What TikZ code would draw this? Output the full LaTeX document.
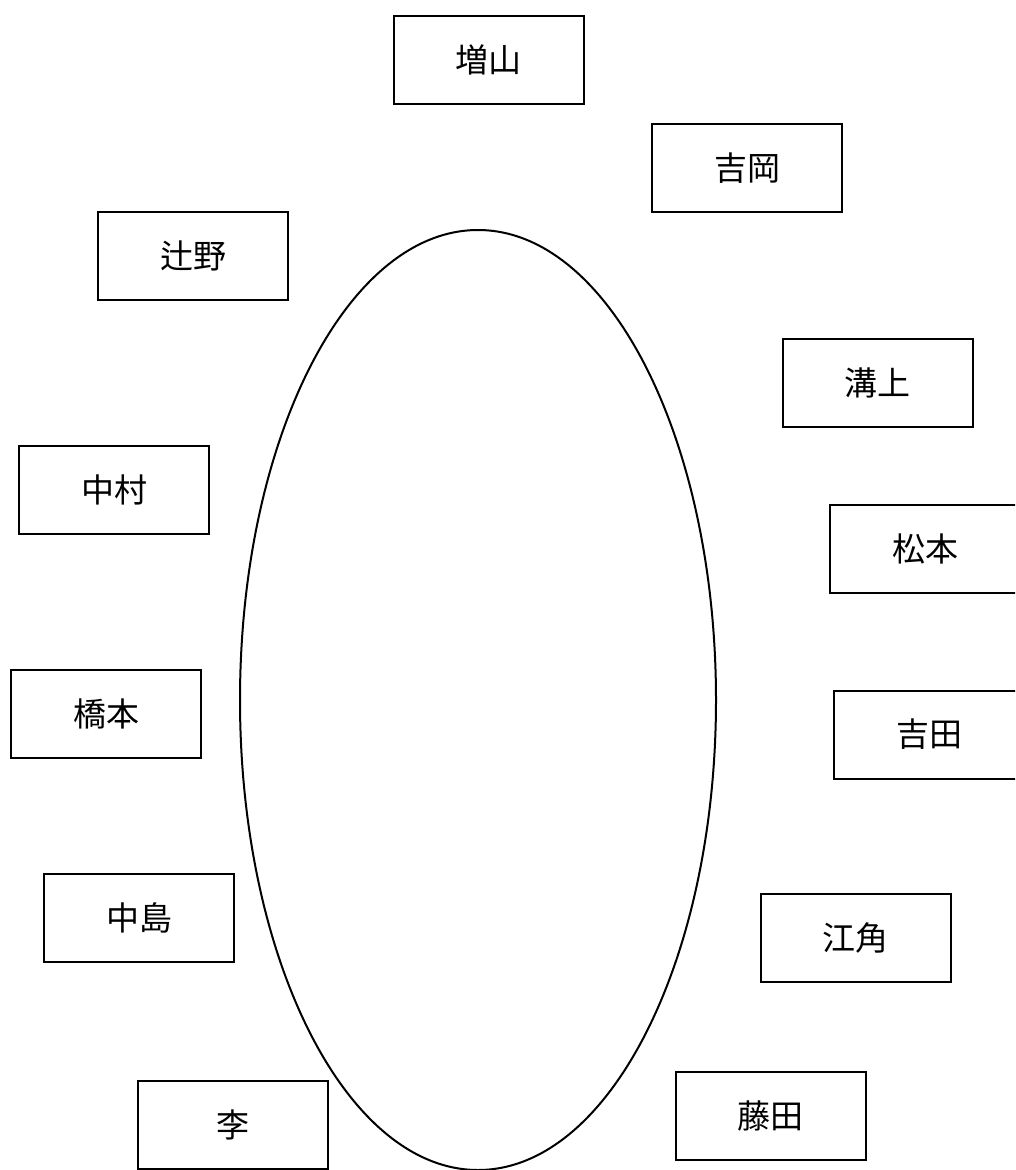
\documentclass[tikz,border=0pt]{standalone}
\usepackage{fontspec}
\newfontfamily\cjk{Noto Sans CJK JP}
\begin{document}
\begin{tikzpicture}[x=1pt,y=-1pt,
  namebox/.style={draw=black, line width=2pt, minimum width=190pt, minimum height=88pt, inner sep=0pt, font=\cjk\fontsize{33}{38}\selectfont},
]
\useasboundingbox (0,0) rectangle (1015,1170);
\begin{scope}
\clip (0,0) rectangle (1015,1170);
\draw[line width=2pt] (478,700) ellipse [x radius=238, y radius=470];
\node[namebox] (masuyama) at (488.5,59.5) {増山};
\node[namebox] (yoshioka) at (747,168) {吉岡};
\node[namebox] (tsujino) at (193,255.5) {辻野};
\node[namebox] (mizokami) at (877.5,383) {溝上};
\node[namebox] (nakamura) at (114,490) {中村};
\node[namebox] (matsumoto) at (925,549) {松本};
\node[namebox] (hashimoto) at (106,714) {橋本};
\node[namebox] (yoshida) at (929,734.5) {吉田};
\node[namebox] (nakajima) at (139,917.5) {中島};
\node[namebox] (esumi) at (855.5,938) {江角};
\node[namebox] (ri) at (233,1125) {李};
\node[namebox] (fujita) at (770.5,1116) {藤田};
\end{scope}
\end{tikzpicture}
\end{document}
